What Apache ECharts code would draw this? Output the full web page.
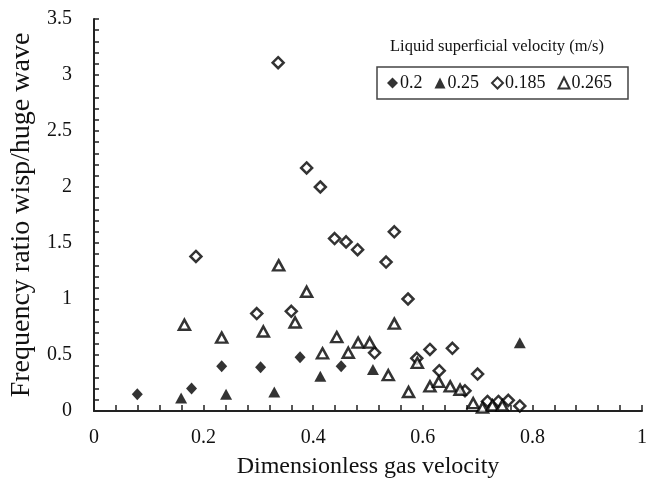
<!DOCTYPE html>
<html><head><meta charset="utf-8">
<script src="https://cdn.jsdelivr.net/npm/echarts@6/dist/echarts.min.js"></script>
<style>html,body{margin:0;padding:0;background:#fff}#c{width:650px;height:491px}</style>
</head><body><div id="c"></div>
<script>
// Data: [dimensionless gas velocity, frequency ratio]
var seriesNames = ['0.2', '0.25', '0.185', '0.265'];
var data02 = [[0.079,0.15],[0.178,0.20],[0.233,0.40],[0.304,0.39],[0.376,0.48],[0.451,0.40]];
var data025 = [[0.159,0.115],[0.241,0.15],[0.329,0.17],[0.413,0.31],[0.509,0.37],[0.777,0.61]];
var data0185 = [[0.186,1.38],[0.297,0.87],[0.336,3.11],[0.36,0.89],[0.388,2.17],[0.413,2.0],
  [0.439,1.54],[0.46,1.51],[0.481,1.44],[0.533,1.33],[0.548,1.6],[0.573,1.0],[0.512,0.52],
  [0.589,0.47],[0.613,0.55],[0.654,0.56],[0.63,0.36],[0.70,0.33],[0.677,0.18],[0.718,0.085],
  [0.738,0.085],[0.756,0.095],[0.777,0.045]];
var data0265 = [[0.165,0.77],[0.233,0.655],[0.309,0.71],[0.337,1.30],[0.367,0.79],[0.388,1.065],
  [0.417,0.515],[0.443,0.66],[0.464,0.52],[0.482,0.61],[0.503,0.61],[0.548,0.78],[0.537,0.32],
  [0.574,0.17],[0.590,0.43],[0.613,0.22],[0.629,0.26],[0.650,0.22],[0.668,0.19],[0.692,0.07],
  [0.709,0.03],[0.727,0.05],[0.745,0.05]];
var xTitle = 'Dimensionless gas velocity';
var yTitle = 'Frequency ratio wisp/huge wave';
var legendTitle = 'Liquid superficial velocity (m/s)';

var font = 'Liberation Serif';
var chart = echarts.init(document.getElementById('c'), null, {renderer:'canvas'});
chart.setOption({
  backgroundColor:'#fff',
  animation:false,
  grid:{left:92, top:19, right:3, bottom:80, containLabel:false},
  graphic:[{type:'text', left:390, top:38, style:{text:legendTitle, font:'16.5px "Liberation Serif"', fill:'#111'}}],
  legend:{
    left:377, top:67, orient:'horizontal',
    padding:[7,16,7,10], itemGap:12, itemWidth:11, itemHeight:11,
    borderColor:'#444', borderWidth:1.5,
    textStyle:{fontFamily:font, fontSize:18, color:'#111', padding:[0,0,0,-3]},
    data:seriesNames
  },
  xAxis:{
    type:'value', min:0, max:1, interval:0.2,
    name:xTitle, nameLocation:'middle', nameGap:44,
    nameTextStyle:{fontFamily:font, fontSize:24, color:'#111'},
    axisLine:{lineStyle:{color:'#222', width:2}},
    axisTick:{inside:true, length:6, lineStyle:{color:'#222', width:1.5}},
    minorTick:{show:true, splitNumber:5, length:6, lineStyle:{color:'#222', width:1.5}},
    axisLabel:{fontFamily:font, fontSize:20, color:'#111', margin:17},
    splitLine:{show:false}
  },
  yAxis:{
    type:'value', min:0, max:3.5, interval:0.5,
    name:yTitle, nameLocation:'middle', nameGap:58,
    nameTextStyle:{fontFamily:font, fontSize:28, color:'#111'},
    axisLine:{show:true, lineStyle:{color:'#222', width:2}},
    axisTick:{show:true, inside:true, length:5, lineStyle:{color:'#222', width:1.5}},
    minorTick:{show:true, splitNumber:5, length:5, lineStyle:{color:'#222', width:1.5}},
    axisLabel:{fontFamily:font, fontSize:20, color:'#111', margin:22},
    splitLine:{show:false}
  },
  series:[
    {name:seriesNames[0], type:'scatter', data:data02, symbol:'diamond', symbolSize:[11,12],
      itemStyle:{color:'#000'}},
    {name:seriesNames[1], type:'scatter', data:data025, symbol:'triangle', symbolSize:[12,11],
      itemStyle:{color:'#000'}},
    {name:seriesNames[2], type:'scatter', data:data0185, symbol:'diamond', symbolSize:11,
      itemStyle:{color:'#fff', borderColor:'#000', borderWidth:2.5}},
    {name:seriesNames[3], type:'scatter', data:data0265, symbol:'triangle', symbolSize:[11,10],
      itemStyle:{color:'#fff', borderColor:'#000', borderWidth:2.5}}
  ]
});
</script></body></html>
